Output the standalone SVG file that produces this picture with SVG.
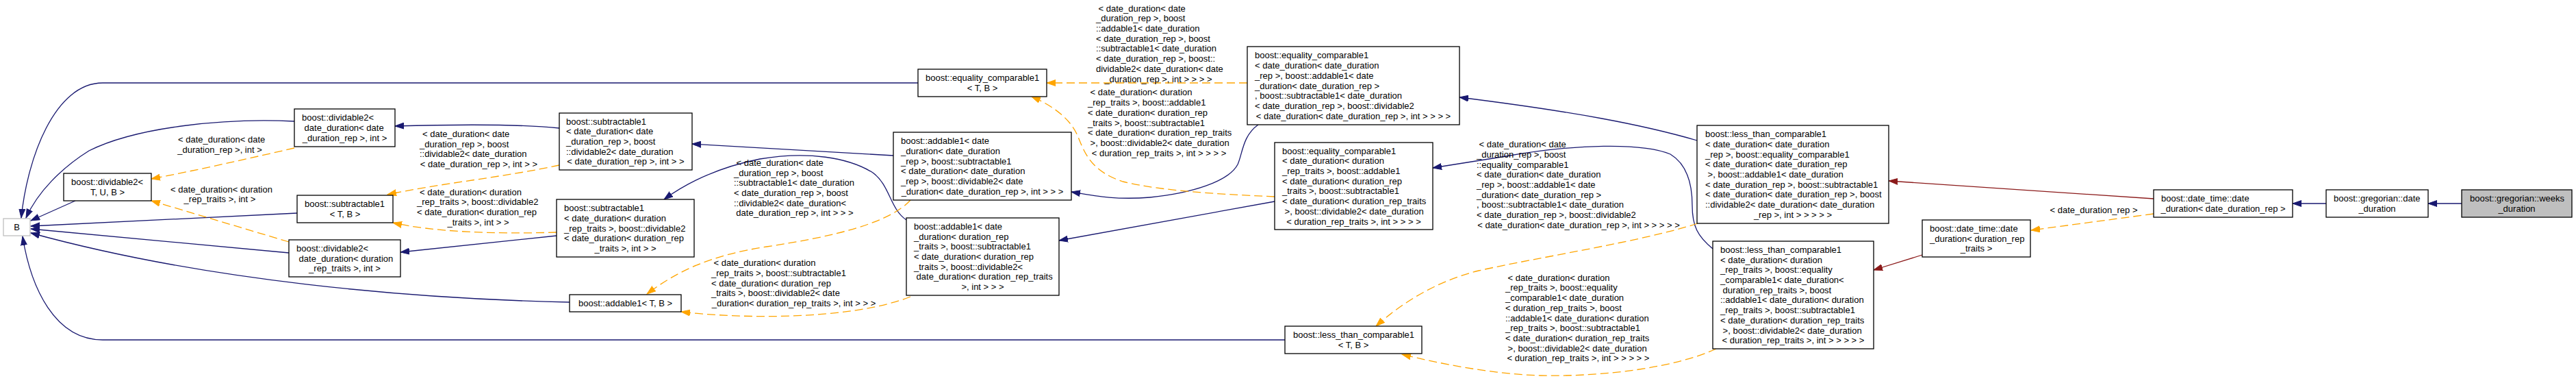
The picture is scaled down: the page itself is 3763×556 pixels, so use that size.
<svg xmlns="http://www.w3.org/2000/svg" width="3763" height="556" viewBox="0 0 3763 556">
<style>
.n rect{fill:#fff;stroke:#000;stroke-width:1.3}
text{font-family:"Liberation Sans",Arial,Helvetica,sans-serif;font-size:13px;fill:#000}
.m{text-anchor:middle}
.e{fill:none;stroke-width:1.3}
.pub{stroke:#191970;marker-end:url(#aN)}
.tpl{stroke:#ffa500;stroke-dasharray:12,6;marker-end:url(#aO)}
.prv{stroke:#8b1a1a;marker-end:url(#aR)}
</style>
<defs>
<marker id="aN" viewBox="0 0 14 10" refX="13" refY="5" markerWidth="14" markerHeight="10" markerUnits="userSpaceOnUse" orient="auto"><path d="M0,0.5 L13,5 L0,9.5 z" fill="#191970" stroke="#191970"/></marker>
<marker id="aO" viewBox="0 0 14 10" refX="13" refY="5" markerWidth="14" markerHeight="10" markerUnits="userSpaceOnUse" orient="auto"><path d="M0,0.5 L13,5 L0,9.5 z" fill="#ffa500" stroke="#ffa500"/></marker>
<marker id="aR" viewBox="0 0 14 10" refX="13" refY="5" markerWidth="14" markerHeight="10" markerUnits="userSpaceOnUse" orient="auto"><path d="M0,0.5 L13,5 L0,9.5 z" fill="#8b1a1a" stroke="#8b1a1a"/></marker>
</defs>
<rect width="3763" height="556" fill="#fff"/>
<g id="edges">
<path class="e pub" d="M1341,121 L150,121 C80,121 40,230 31,318"/>
<path class="e pub" d="M430,177 C330,172 200,185 130,220 C90,245 55,280 38,318"/>
<path class="e pub" d="M110,293 L45,322"/>
<path class="e pub" d="M434,311 L45,330"/>
<path class="e pub" d="M422,369 L45,334"/>
<path class="e pub" d="M832,441 C600,436 300,410 45,340"/>
<path class="e pub" d="M1877,496 L150,496 C80,496 45,420 33,345"/>
<path class="e tpl" d="M430,216 C360,232 290,248 221,261"/>
<path class="e tpl" d="M422,353 L221,293"/>
<path class="e pub" d="M817,187 C750,180 650,182 577,184"/>
<path class="e tpl" d="M817,241 C740,258 640,268 566,284"/>
<path class="e tpl" d="M813,339 C720,342 630,338 574,325"/>
<path class="e pub" d="M813,344 L585,368"/>
<path class="e pub" d="M1305,227 L1011,210"/>
<path class="e pub" d="M1324,321 C1300,305 1300,270 1275,252 C1240,230 1180,220 1110,232 C1060,242 1010,262 970,291"/>
<path class="e tpl" d="M1330,292 C1300,325 1220,345 1120,360 C1040,372 990,395 945,429"/>
<path class="e tpl" d="M1330,433 C1240,468 1080,465 995,455"/>
<path class="e pub" d="M1838,182 C1815,198 1815,225 1808,240 C1795,265 1740,282 1680,288 C1630,292 1600,286 1565,280"/>
<path class="e tpl" d="M1822,121 L1529,121"/>
<path class="e tpl" d="M1862,287 C1800,284 1700,280 1640,265 C1595,250 1585,225 1575,200 C1565,175 1540,155 1507,141"/>
<path class="e pub" d="M1862,294 L1547,351"/>
<path class="e pub" d="M2479,205 C2400,182 2300,163 2132,142"/>
<path class="e pub" d="M2502,363 C2480,345 2472,330 2472,300 C2472,270 2465,240 2440,225 C2400,208 2300,210 2200,228 L2093,245"/>
<path class="e tpl" d="M2480,326 C2400,352 2250,375 2160,395 C2100,410 2050,440 2010,476"/>
<path class="e tpl" d="M2507,509 C2450,535 2350,550 2250,548 C2180,546 2100,530 2048,517"/>
<path class="e prv" d="M3146,290 L2759,264"/>
<path class="e prv" d="M2808,372 L2737,394"/>
<path class="e tpl" d="M3146,312 L2967,336"/>
<path class="e pub" d="M3398,297 L3349,297"/>
<path class="e pub" d="M3596,297 L3547,297"/>
<text><tspan x="260" y="208.2">&lt; date_duration&lt; date</tspan><tspan class="m" x="321" y="222.9">_duration_rep &gt;, int &gt;</tspan></text>
<text><tspan x="249" y="280.7">&lt; date_duration&lt; duration</tspan><tspan class="m" x="321" y="295.4">_rep_traits &gt;, int &gt;</tspan></text>
<text><tspan x="617" y="200">&lt; date_duration&lt; date</tspan><tspan x="613" y="214.7">_duration_rep &gt;, boost</tspan><tspan x="613" y="229.4">::dividable2&lt; date_duration</tspan><tspan class="m" x="699.5" y="244.1">&lt; date_duration_rep &gt;, int &gt; &gt;</tspan></text>
<text><tspan x="613" y="284.5">&lt; date_duration&lt; duration</tspan><tspan x="609" y="299.2">_rep_traits &gt;, boost::dividable2</tspan><tspan x="609" y="313.9">&lt; date_duration&lt; duration_rep</tspan><tspan class="m" x="698.5" y="328.6">_traits &gt;, int &gt; &gt;</tspan></text>
<text><tspan x="1075.6" y="241.8">&lt; date_duration&lt; date</tspan><tspan x="1072" y="256.5">_duration_rep &gt;, boost</tspan><tspan x="1072" y="271.2">::subtractable1&lt; date_duration</tspan><tspan x="1072" y="285.9">&lt; date_duration_rep &gt;, boost</tspan><tspan x="1072" y="300.6">::dividable2&lt; date_duration&lt;</tspan><tspan class="m" x="1161" y="315.3">date_duration_rep &gt;, int &gt; &gt; &gt;</tspan></text>
<text><tspan x="1042.6" y="388.1">&lt; date_duration&lt; duration</tspan><tspan x="1039" y="402.8">_rep_traits &gt;, boost::subtractable1</tspan><tspan x="1039" y="417.5">&lt; date_duration&lt; duration_rep</tspan><tspan x="1039" y="432.2">_traits &gt;, boost::dividable2&lt; date</tspan><tspan class="m" x="1159.5" y="446.9">_duration&lt; duration_rep_traits &gt;, int &gt; &gt; &gt;</tspan></text>
<text><tspan x="1604.6" y="16.6">&lt; date_duration&lt; date</tspan><tspan x="1601" y="31.3">_duration_rep &gt;, boost</tspan><tspan x="1601" y="46">::addable1&lt; date_duration</tspan><tspan x="1601" y="60.7">&lt; date_duration_rep &gt;, boost</tspan><tspan x="1601" y="75.4">::subtractable1&lt; date_duration</tspan><tspan x="1601" y="90.1">&lt; date_duration_rep &gt;, boost::</tspan><tspan x="1601" y="104.8">dividable2&lt; date_duration&lt; date</tspan><tspan class="m" x="1692" y="119.5">_duration_rep &gt;, int &gt; &gt; &gt; &gt;</tspan></text>
<text><tspan x="1592.6" y="139.4">&lt; date_duration&lt; duration</tspan><tspan x="1589" y="154.1">_rep_traits &gt;, boost::addable1</tspan><tspan x="1589" y="168.8">&lt; date_duration&lt; duration_rep</tspan><tspan x="1589" y="183.5">_traits &gt;, boost::subtractable1</tspan><tspan x="1589" y="198.2">&lt; date_duration&lt; duration_rep_traits</tspan><tspan x="1592.6" y="212.9">&gt;, boost::dividable2&lt; date_duration</tspan><tspan class="m" x="1693" y="227.6">&lt; duration_rep_traits &gt;, int &gt; &gt; &gt; &gt;</tspan></text>
<text><tspan x="2160.6" y="215.2">&lt; date_duration&lt; date</tspan><tspan x="2157" y="229.9">_duration_rep &gt;, boost</tspan><tspan x="2157" y="244.6">::equality_comparable1</tspan><tspan x="2157" y="259.3">&lt; date_duration&lt; date_duration</tspan><tspan x="2157" y="274">_rep &gt;, boost::addable1&lt; date</tspan><tspan x="2157" y="288.7">_duration&lt; date_duration_rep &gt;</tspan><tspan x="2157" y="303.4">, boost::subtractable1&lt; date_duration</tspan><tspan x="2157" y="318.1">&lt; date_duration_rep &gt;, boost::dividable2</tspan><tspan class="m" x="2306" y="332.8">&lt; date_duration&lt; date_duration_rep &gt;, int &gt; &gt; &gt; &gt; &gt;</tspan></text>
<text><tspan x="2202.6" y="409.7">&lt; date_duration&lt; duration</tspan><tspan x="2199" y="424.4">_rep_traits &gt;, boost::equality</tspan><tspan x="2199" y="439.1">_comparable1&lt; date_duration</tspan><tspan x="2199" y="453.8">&lt; duration_rep_traits &gt;, boost</tspan><tspan x="2199" y="468.5">::addable1&lt; date_duration&lt; duration</tspan><tspan x="2199" y="483.2">_rep_traits &gt;, boost::subtractable1</tspan><tspan x="2199" y="497.9">&lt; date_duration&lt; duration_rep_traits</tspan><tspan x="2202.6" y="512.6">&gt;, boost::dividable2&lt; date_duration</tspan><tspan class="m" x="2305.5" y="527.3">&lt; duration_rep_traits &gt;, int &gt; &gt; &gt; &gt; &gt;</tspan></text>
<text class="m" x="3058.5" y="310.5">&lt; date_duration_rep &gt;</text>
</g>
<g id="node-B"><rect x="5" y="319" width="39" height="25" fill="#fff" stroke="#bfbfbf" stroke-width="1.3"/><text class="m" x="24.5" y="336">B</text></g>
<g id="node-dividable2-TUB" class="n"><rect x="93" y="253" width="128" height="40"/><text><tspan x="104" y="270.2">boost::dividable2&lt;</tspan><tspan class="m" x="157" y="284.9">T, U, B &gt;</tspan></text></g>
<g id="node-dividable2-rep" class="n"><rect x="430" y="159" width="147" height="55"/><text><tspan x="441" y="176.3">boost::dividable2&lt;</tspan><tspan x="444.6" y="191">date_duration&lt; date</tspan><tspan class="m" x="503.5" y="205.7">_duration_rep &gt;, int &gt;</tspan></text></g>
<g id="node-subtractable1-TB" class="n"><rect x="434" y="285" width="140" height="40"/><text><tspan x="445" y="302.2">boost::subtractable1</tspan><tspan class="m" x="504" y="316.9">&lt; T, B &gt;</tspan></text></g>
<g id="node-dividable2-traits" class="n"><rect x="422" y="350" width="163" height="54"/><text><tspan x="433" y="366.8">boost::dividable2&lt;</tspan><tspan x="436.6" y="381.5">date_duration&lt; duration</tspan><tspan class="m" x="503.5" y="396.2">_rep_traits &gt;, int &gt;</tspan></text></g>
<g id="node-subtractable1-rep" class="n"><rect x="817" y="165" width="194" height="83"/><text><tspan x="827" y="181.6">boost::subtractable1</tspan><tspan x="827" y="196.3">&lt; date_duration&lt; date</tspan><tspan x="827" y="211">_duration_rep &gt;, boost</tspan><tspan x="827" y="225.7">::dividable2&lt; date_duration</tspan><tspan class="m" x="914" y="240.4">&lt; date_duration_rep &gt;, int &gt; &gt;</tspan></text></g>
<g id="node-subtractable1-traits" class="n"><rect x="813" y="291" width="201" height="84"/><text><tspan x="824" y="308.1">boost::subtractable1</tspan><tspan x="824" y="322.8">&lt; date_duration&lt; duration</tspan><tspan x="824" y="337.5">_rep_traits &gt;, boost::dividable2</tspan><tspan x="824" y="352.2">&lt; date_duration&lt; duration_rep</tspan><tspan class="m" x="913.5" y="366.9">_traits &gt;, int &gt; &gt;</tspan></text></g>
<g id="node-addable1-TB" class="n"><rect x="832" y="430" width="163" height="25"/><text class="m" x="913.5" y="447">boost::addable1&lt; T, B &gt;</text></g>
<g id="node-equality_comparable1-TB" class="n"><rect x="1341" y="101" width="188" height="40"/><text><tspan x="1352" y="118.2">boost::equality_comparable1</tspan><tspan class="m" x="1435" y="132.9">&lt; T, B &gt;</tspan></text></g>
<g id="node-addable1-rep" class="n"><rect x="1305" y="193" width="260" height="99"/><text><tspan x="1316" y="210.3">boost::addable1&lt; date</tspan><tspan x="1316" y="225">_duration&lt; date_duration</tspan><tspan x="1316" y="239.7">_rep &gt;, boost::subtractable1</tspan><tspan x="1316" y="254.4">&lt; date_duration&lt; date_duration</tspan><tspan x="1316" y="269.1">_rep &gt;, boost::dividable2&lt; date</tspan><tspan class="m" x="1435" y="283.8">_duration&lt; date_duration_rep &gt;, int &gt; &gt; &gt;</tspan></text></g>
<g id="node-addable1-traits" class="n"><rect x="1324" y="318" width="223" height="113"/><text><tspan x="1335" y="334.9">boost::addable1&lt; date</tspan><tspan x="1335" y="349.6">_duration&lt; duration_rep</tspan><tspan x="1335" y="364.3">_traits &gt;, boost::subtractable1</tspan><tspan x="1335" y="379">&lt; date_duration&lt; duration_rep</tspan><tspan x="1335" y="393.7">_traits &gt;, boost::dividable2&lt;</tspan><tspan x="1338.6" y="408.4">date_duration&lt; duration_rep_traits</tspan><tspan class="m" x="1435.5" y="423.1">&gt;, int &gt; &gt; &gt;</tspan></text></g>
<g id="node-equality_comparable1-rep" class="n"><rect x="1822" y="68" width="310" height="114"/><text><tspan x="1833" y="85.4">boost::equality_comparable1</tspan><tspan x="1833" y="100.1">&lt; date_duration&lt; date_duration</tspan><tspan x="1833" y="114.8">_rep &gt;, boost::addable1&lt; date</tspan><tspan x="1833" y="129.5">_duration&lt; date_duration_rep &gt;</tspan><tspan x="1833" y="144.2">, boost::subtractable1&lt; date_duration</tspan><tspan x="1833" y="158.9">&lt; date_duration_rep &gt;, boost::dividable2</tspan><tspan class="m" x="1977" y="173.6">&lt; date_duration&lt; date_duration_rep &gt;, int &gt; &gt; &gt; &gt;</tspan></text></g>
<g id="node-equality_comparable1-traits" class="n"><rect x="1862" y="208" width="231" height="127"/><text><tspan x="1873" y="224.6">boost::equality_comparable1</tspan><tspan x="1873" y="239.3">&lt; date_duration&lt; duration</tspan><tspan x="1873" y="254">_rep_traits &gt;, boost::addable1</tspan><tspan x="1873" y="268.7">&lt; date_duration&lt; duration_rep</tspan><tspan x="1873" y="283.4">_traits &gt;, boost::subtractable1</tspan><tspan x="1873" y="298.1">&lt; date_duration&lt; duration_rep_traits</tspan><tspan x="1876.6" y="312.8">&gt;, boost::dividable2&lt; date_duration</tspan><tspan class="m" x="1977.5" y="327.5">&lt; duration_rep_traits &gt;, int &gt; &gt; &gt; &gt;</tspan></text></g>
<g id="node-less_than_comparable1-TB" class="n"><rect x="1877" y="476" width="200" height="40"/><text><tspan x="1889" y="493.2">boost::less_than_comparable1</tspan><tspan class="m" x="1977" y="507.9">&lt; T, B &gt;</tspan></text></g>
<g id="node-less_than_comparable1-rep" class="n"><rect x="2479" y="183" width="280" height="143"/><text><tspan x="2491" y="200.2">boost::less_than_comparable1</tspan><tspan x="2491" y="214.9">&lt; date_duration&lt; date_duration</tspan><tspan x="2491" y="229.6">_rep &gt;, boost::equality_comparable1</tspan><tspan x="2491" y="244.3">&lt; date_duration&lt; date_duration_rep</tspan><tspan x="2494.6" y="259">&gt;, boost::addable1&lt; date_duration</tspan><tspan x="2491" y="273.7">&lt; date_duration_rep &gt;, boost::subtractable1</tspan><tspan x="2491" y="288.4">&lt; date_duration&lt; date_duration_rep &gt;, boost</tspan><tspan x="2491" y="303.1">::dividable2&lt; date_duration&lt; date_duration</tspan><tspan class="m" x="2619" y="317.8">_rep &gt;, int &gt; &gt; &gt; &gt; &gt;</tspan></text></g>
<g id="node-less_than_comparable1-traits" class="n"><rect x="2502" y="352" width="235" height="157"/><text><tspan x="2513" y="368.9">boost::less_than_comparable1</tspan><tspan x="2513" y="383.6">&lt; date_duration&lt; duration</tspan><tspan x="2513" y="398.3">_rep_traits &gt;, boost::equality</tspan><tspan x="2513" y="413">_comparable1&lt; date_duration&lt;</tspan><tspan x="2516.6" y="427.7">duration_rep_traits &gt;, boost</tspan><tspan x="2513" y="442.4">::addable1&lt; date_duration&lt; duration</tspan><tspan x="2513" y="457.1">_rep_traits &gt;, boost::subtractable1</tspan><tspan x="2513" y="471.8">&lt; date_duration&lt; duration_rep_traits</tspan><tspan x="2516.6" y="486.5">&gt;, boost::dividable2&lt; date_duration</tspan><tspan class="m" x="2619.5" y="501.2">&lt; duration_rep_traits &gt;, int &gt; &gt; &gt; &gt; &gt;</tspan></text></g>
<g id="node-date_time-date_duration-traits" class="n"><rect x="2808" y="321" width="158" height="54"/><text><tspan x="2819" y="337.8">boost::date_time::date</tspan><tspan x="2819" y="352.5">_duration&lt; duration_rep</tspan><tspan class="m" x="2887" y="367.2">_traits &gt;</tspan></text></g>
<g id="node-date_time-date_duration-rep" class="n"><rect x="3146" y="277" width="203" height="40"/><text><tspan x="3157" y="294.2">boost::date_time::date</tspan><tspan class="m" x="3247.5" y="308.9">_duration&lt; date_duration_rep &gt;</tspan></text></g>
<g id="node-gregorian-date_duration" class="n"><rect x="3398" y="277" width="149" height="40"/><text><tspan x="3409" y="294.2">boost::gregorian::date</tspan><tspan class="m" x="3472.5" y="308.9">_duration</tspan></text></g>
<g id="node-gregorian-weeks_duration"><rect x="3596" y="277" width="161" height="40" fill="#bfbfbf" stroke="#000" stroke-width="1.3"/><text><tspan x="3608" y="294.2">boost::gregorian::weeks</tspan><tspan class="m" x="3676.5" y="308.9">_duration</tspan></text></g>
</svg>
